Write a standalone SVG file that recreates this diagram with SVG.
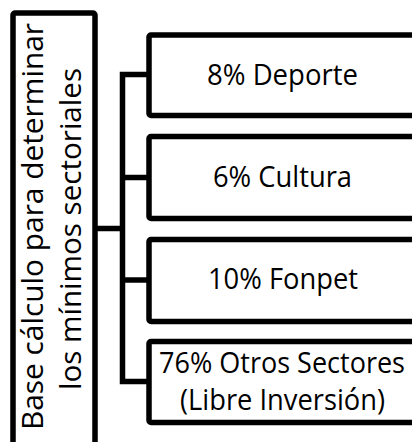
<svg xmlns="http://www.w3.org/2000/svg" width="412" height="442" viewBox="0 0 412 442">
<style>
.box{fill:#fff;stroke:#000;stroke-width:5.5}
.conn{fill:none;stroke:#000;stroke-width:5.5;stroke-linejoin:miter}
text{font-family:"Open Sans","Noto Sans","Liberation Sans",sans-serif;font-size:29px;fill:#000;text-anchor:middle}
</style>
<rect x="0" y="0" width="412" height="442" fill="#fff"/>
<g id="connectors">
<path class="conn" d="M95,228.5 H122.5"/>
<path class="conn" d="M149,74.5 H122.5 V381.5 H149"/>
<path class="conn" d="M122.5,177.5 H149"/>
<path class="conn" d="M122.5,280 H149"/>
</g>
<g id="base">
<rect class="box" x="13" y="13" width="82" height="460" rx="2"/>
<text transform="translate(43.3,226.5) rotate(-90)" textLength="407" lengthAdjust="spacingAndGlyphs">Base cálculo para determinar</text>
<text transform="translate(81,229) rotate(-90)" textLength="322" lengthAdjust="spacingAndGlyphs">los mínimos sectoriales</text>
</g>
<g id="deporte">
<rect class="box" x="149" y="35" width="272" height="80.5" rx="2"/>
<text x="282.5" y="85" textLength="151" lengthAdjust="spacingAndGlyphs">8% Deporte</text>
</g>
<g id="cultura">
<rect class="box" x="149" y="136.5" width="272" height="82" rx="2"/>
<text x="282.5" y="186.7" textLength="139" lengthAdjust="spacingAndGlyphs">6% Cultura</text>
</g>
<g id="fonpet">
<rect class="box" x="149" y="239.5" width="272" height="82" rx="2"/>
<text x="283" y="289.3" textLength="150" lengthAdjust="spacingAndGlyphs">10% Fonpet</text>
</g>
<g id="otros">
<rect class="box" x="149" y="341.5" width="272" height="81" rx="2"/>
<text x="282" y="373" textLength="246" lengthAdjust="spacingAndGlyphs">76% Otros Sectores</text>
<text x="282.5" y="410" textLength="205" lengthAdjust="spacingAndGlyphs">(Libre Inversión)</text>
</g>
</svg>
